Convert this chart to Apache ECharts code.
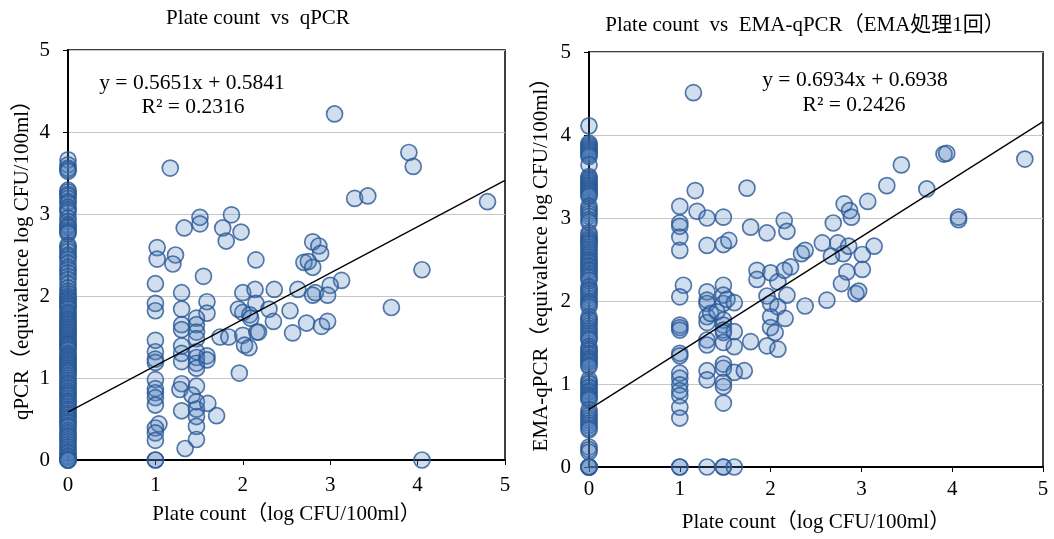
<!DOCTYPE html>
<html><head><meta charset="utf-8">
<script src="https://cdn.jsdelivr.net/npm/echarts@6/dist/echarts.min.js"></script>
<style>html,body{margin:0;padding:0;background:#fff}#c{width:1054px;height:539px}</style>
</head><body><div id="c"></div><script>
const FONT = "'Liberation Serif','Noto Sans CJK JP',serif";

// Titles, axis names, equations
const titles = ['Plate count  vs  qPCR', 'Plate count  vs  EMA-qPCR（EMA処理1回）'];
const xNames = ['Plate count（log CFU/100ml）', 'Plate count（log CFU/100ml）'];
const yNames = ['qPCR（equivalence log CFU/100ml）', 'EMA-qPCR（equivalence log CFU/100ml）'];
const eqTexts = ['y = 0.5651x + 0.5841', 'y = 0.6934x + 0.6938'];
const r2Texts = ['R² = 0.2316', 'R² = 0.2426'];
const slopes = [0.5651, 0.6934];
const intercepts = [0.5841, 0.6938];
const axisMin = 0, axisMax = 5, axisStep = 1;

// qPCR: samples with plate count 0 (y values)
const qpcrZero = [3.66,3.60,3.56,3.54,3.52,3.29,3.27,3.24,3.22,3.19,3.15,3.13,3.08,3.05,3.02,2.95,2.91,2.87,2.85,2.83,2.80,2.78,2.76,
2.62,2.60,2.57,2.54,2.50,2.48,2.45,2.40,2.35,2.32,2.28,2.24,2.20,2.15,2.10,2.06,2.03,2.00,1.98,1.96,1.94,1.92,1.90,1.88,1.86,1.84,1.80,1.78,1.75,1.72,1.70,1.68,1.66,1.64,1.62,1.60,1.58,1.56,1.54,1.52,1.50,1.48,1.46,1.44,1.42,1.41,1.40,1.38,1.36,1.34,1.30,1.28,1.26,1.24,1.22,1.20,1.18,1.16,1.14,1.12,1.10,1.08,1.06,1.03,1.00,0.97,0.94,0.92,0.89,0.87,0.84,0.82,0.80,0.78,0.75,0.72,0.70,0.68,0.65,0.62,0.60,0.57,0.55,0.52,0.50,0.47,0.45,0.42,0.40,0.36,0.33,0.30,0.28,0.25,0.22,0.19,0.16,0.13,0.10,0.08,0.05,0.03,0,0,0,0];
// qPCR: other samples [plate count, qPCR]
const qpcrPts = [[1.17,3.56],[3.05,4.22],[3.90,3.75],[3.95,3.58],[3.28,3.19],[3.43,3.22],[4.80,3.15],
[1.33,2.83],[1.51,2.96],[1.51,2.88],[1.77,2.83],[1.87,2.99],[1.81,2.67],[1.98,2.78],
[1.02,2.59],[1.02,2.45],[1.23,2.50],[1.20,2.39],[1.55,2.24],[2.15,2.44],
[2.80,2.66],[2.87,2.61],[2.89,2.52],[2.70,2.41],[2.75,2.42],[2.80,2.35],[4.05,2.32],[3.13,2.19],[3.00,2.13],
[1.00,2.15],[1.30,2.04],[2.00,2.04],[2.14,2.08],[2.36,2.08],[2.63,2.08],[2.83,2.04],[2.80,2.01],[2.97,2.01],
[1.00,1.91],[1.00,1.82],[1.30,1.84],[1.59,1.93],[1.59,1.79],[2.15,1.91],[1.95,1.84],[2.00,1.80],[2.08,1.77],[2.09,1.73],[2.30,1.84],[2.35,1.69],[2.54,1.82],[3.70,1.86],
[1.47,1.73],[1.47,1.65],[1.47,1.56],[1.47,1.48],[1.30,1.65],[1.30,1.59],[2.57,1.55],[2.73,1.67],[2.90,1.63],[2.97,1.69],
[1.00,1.46],[1.00,1.32],[1.00,1.23],[1.00,1.19],[1.30,1.39],[1.30,1.30],[1.30,1.20],[1.47,1.32],[1.47,1.25],[1.47,1.18],[1.47,1.12],[1.59,1.27],[1.59,1.22],
[1.74,1.50],[1.84,1.50],[2.00,1.52],[2.02,1.40],[2.07,1.37],[2.16,1.56],[2.18,1.56],[1.96,1.06],
[1.00,0.98],[1.00,0.87],[1.00,0.82],[1.00,0.76],[1.00,0.67],[1.04,0.44],[1.00,0.39],[1.00,0.33],[1.00,0.24],
[1.30,0.93],[1.28,0.86],[1.30,0.60],[1.34,0.14],[1.47,0.90],[1.42,0.79],[1.47,0.71],[1.47,0.62],[1.47,0.53],[1.47,0.41],[1.47,0.25],[1.60,0.69],[1.70,0.54],
[1.00,0],[1.00,0],[4.05,0]];

// EMA-qPCR: samples with plate count 0 (y values)
const emaZero = [4.11,3.90,3.88,3.86,3.84,3.82,3.80,3.78,3.76,3.74,3.64,3.50,3.48,3.46,3.44,3.42,3.40,3.38,3.36,3.34,3.32,3.30,3.28,3.26,3.14,3.11,3.08,3.05,3.02,2.98,2.95,
2.82,2.79,2.76,2.74,2.72,2.70,2.68,2.65,2.62,2.59,2.56,2.53,2.50,2.48,2.46,2.43,2.41,2.38,2.36,2.33,2.30,2.28,2.25,2.17,2.14,2.12,2.09,2.06,2.03,2.00,1.98,1.96,1.93,1.81,1.78,1.76,1.73,1.70,1.67,1.64,1.61,1.58,1.55,1.53,1.45,1.42,1.40,1.37,1.35,1.32,1.30,1.28,1.26,1.23,1.21,1.05,1.02,1.00,0.97,0.95,0.92,0.90,0.87,0.85,0.83,0.81,0.69,0.65,0.62,0.59,0.56,0.53,0.50,0.47,0.45,0.24,0.21,0.18,0,0,0,0];
// EMA-qPCR: other samples [plate count, EMA-qPCR]
const emaPts = [[1.15,4.51],[1.17,3.33],[1.74,3.36],[1.00,3.14],[1.19,3.08],[1.30,3.00],[1.48,3.01],
[1.00,2.94],[1.00,2.90],[1.00,2.77],[1.00,2.61],[1.30,2.67],[1.48,2.68],[1.54,2.73],[1.78,2.89],[1.96,2.82],[2.15,2.97],[2.18,2.84],
[2.34,2.57],[2.38,2.61],[2.57,2.70],[2.69,2.94],[2.74,2.70],[2.80,2.57],[2.86,2.66],[2.81,3.17],[2.87,3.09],[2.89,3.01],[3.01,2.56],[3.07,3.20],[3.14,2.66],[3.28,3.39],[3.44,3.64],[3.72,3.35],[3.91,3.77],[3.94,3.78],[4.07,3.01],[4.07,2.98],[4.80,3.71],
[2.22,2.41],[2.84,2.35],[3.01,2.38],[2.78,2.21],[2.94,2.09],[2.97,2.12],[2.62,2.01],[2.38,1.94],[2.67,2.54],
[1.04,2.19],[1.00,2.05],[1.30,2.11],[1.30,2.01],[1.30,1.97],[1.48,2.19],[1.48,2.07],[1.48,1.97],[1.52,2.02],[1.60,1.98],
[1.30,1.81],[1.30,1.74],[1.34,1.85],[1.41,1.87],[1.48,1.77],[1.48,1.71],[1.48,1.65],[1.48,1.62],[1.60,1.63],
[1.00,1.71],[1.00,1.68],[1.00,1.65],[1.30,1.53],[1.30,1.47],[1.48,1.50],[1.60,1.45],[1.78,1.51],[1.96,1.46],[2.08,1.42],
[1.96,2.06],[2.00,1.97],[2.08,1.93],[2.00,1.81],[2.00,1.68],[2.05,1.62],[2.16,1.79],[2.18,2.07],
[1.85,2.37],[1.85,2.26],[2.00,2.34],[2.08,2.23],[2.15,2.37],
[1.00,1.37],[1.00,1.34],[1.00,1.13],[1.00,1.07],[1.00,0.99],[1.00,0.92],[1.00,0.86],[1.00,0.72],[1.00,0.59],
[1.30,1.16],[1.30,1.05],[1.48,1.24],[1.48,1.19],[1.48,1.02],[1.48,0.97],[1.48,0.77],[1.60,1.14],[1.71,1.16],
[1.00,0],[1.00,0],[1.30,0],[1.48,0],[1.48,0],[1.60,0]];

const datasets = [
  qpcrZero.map(y => [0, y]).concat(qpcrPts),
  emaZero.map(y => [0, y]).concat(emaPts)
];

const grids = [
  {left: 68, top: 50, width: 437, height: 410},
  {left: 589, top: 52, width: 454, height: 415}
];
const xLabelMargin = [15, 12];
const xNameGap = [44, 45];
const yNameGap = [35, 37];

const chart = echarts.init(document.getElementById('c'), null, {renderer: 'canvas'});

const xAxes = [], yAxes = [], series = [];
for (let i = 0; i < 2; i++) {
  xAxes.push({
    gridIndex: i, type: 'value', min: axisMin, max: axisMax, interval: axisStep,
    name: xNames[i], nameLocation: 'middle', nameGap: xNameGap[i],
    nameTextStyle: {fontFamily: FONT, fontSize: 21, color: '#000'},
    axisLine: {show: true, onZero: false, lineStyle: {color: '#000', width: 2}},
    axisTick: {show: true, inside: false, length: 5, lineStyle: {color: '#000', width: 1}},
    axisLabel: {fontFamily: FONT, fontSize: 21, color: '#000', margin: xLabelMargin[i]},
    splitLine: {show: false}
  });
  yAxes.push({
    gridIndex: i, type: 'value', min: axisMin, max: axisMax, interval: axisStep,
    name: yNames[i], nameLocation: 'middle', nameGap: yNameGap[i], nameRotate: 90,
    nameTextStyle: {fontFamily: FONT, fontSize: 21, color: '#000'},
    axisLine: {show: true, onZero: false, lineStyle: {color: '#000', width: 2}},
    axisTick: {show: true, inside: false, length: 5, lineStyle: {color: '#000', width: 1}},
    axisLabel: {fontFamily: FONT, fontSize: 21, color: '#000', margin: 18},
    splitLine: {show: true, lineStyle: {color: '#c6c6c6', width: 1.2}}
  });
  series.push({
    type: 'scatter', xAxisIndex: i, yAxisIndex: i, data: datasets[i],
    symbol: 'circle', symbolSize: 16, z: 3,
    itemStyle: {color: 'rgba(79,129,189,0.32)', borderColor: '#2b5895', borderWidth: 1.7},
    emphasis: {disabled: true}, animation: false
  });
  series.push({
    type: 'line', xAxisIndex: i, yAxisIndex: i,
    data: [[axisMin, intercepts[i] + slopes[i] * axisMin], [axisMax, intercepts[i] + slopes[i] * axisMax]],
    symbol: 'none', z: 5, silent: true,
    lineStyle: {color: '#000', width: 1.3}, animation: false
  });
}

function txt(text, x, y, size) {
  return {type: 'text', x: x, y: y, silent: true,
    style: {text: text, font: size + 'px ' + FONT, fill: '#000',
      textAlign: 'center', align: 'center', textVerticalAlign: 'middle', verticalAlign: 'middle'}};
}

chart.setOption({
  animation: false,
  backgroundColor: '#fff',
  grid: grids.map(g => Object.assign({show: true, borderColor: '#000', borderWidth: 1.5, backgroundColor: 'transparent'}, g)),
  xAxis: xAxes,
  yAxis: yAxes,
  series: series,
  graphic: [
    txt(titles[0], 258, 18, 21),
    txt(titles[1], 805, 25, 21),
    txt(eqTexts[0], 192, 83, 21.5),
    txt(r2Texts[0], 193, 107, 21.5),
    txt(eqTexts[1], 855, 80, 21.5),
    txt(r2Texts[1], 854, 105, 21.5)
  ]
});
</script></body></html>
